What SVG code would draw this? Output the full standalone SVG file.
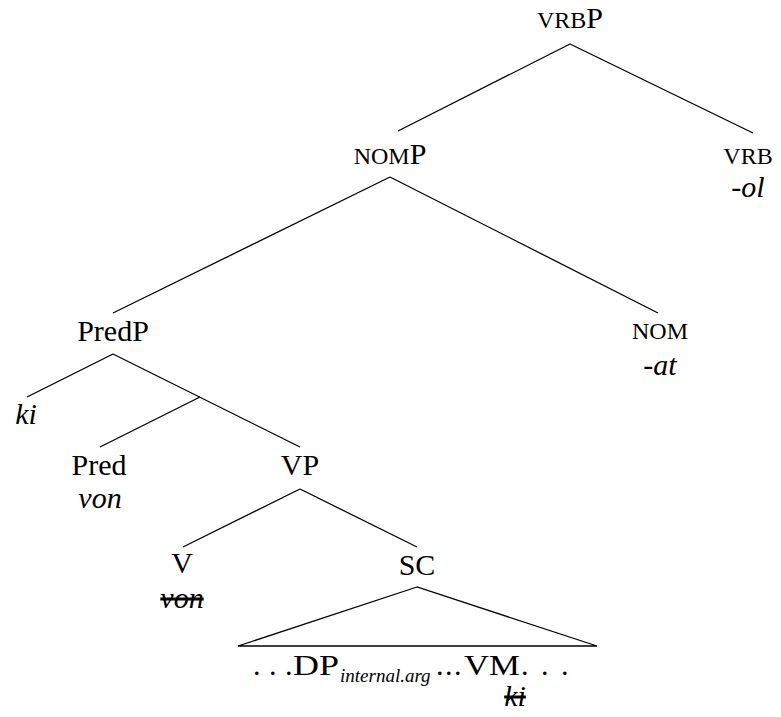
<svg xmlns="http://www.w3.org/2000/svg" width="781" height="717" viewBox="0 0 781 717">
<style>
text{font-family:'Liberation Serif','DejaVu Serif',serif;font-size:30px;fill:#000;text-anchor:middle}
.sc{font-size:24px}
.it{font-style:italic}
.st{text-decoration:line-through}
.l{text-anchor:start}
.edge{stroke:#000;stroke-width:1.3;fill:none}
</style>
<rect width="781" height="717" fill="#fff"/>
<g id="connectors">
<line class="edge" x1="570" y1="44" x2="398" y2="131"/>
<line class="edge" x1="570" y1="44" x2="753" y2="133"/>
<line class="edge" x1="390" y1="177" x2="113" y2="313"/>
<line class="edge" x1="390" y1="177" x2="658" y2="313"/>
<line class="edge" x1="113" y1="354" x2="27" y2="397"/>
<line class="edge" x1="113" y1="354" x2="300" y2="447"/>
<line class="edge" x1="200" y1="397" x2="100" y2="447"/>
<line class="edge" x1="300" y1="489" x2="183" y2="547"/>
<line class="edge" x1="300" y1="489" x2="417" y2="547"/>
<polygon class="edge" points="417,587 238,646 597,646"/>
</g>
<g font-family="Liberation Serif, serif">
<g id="vrbP"><text x="570" y="28"><tspan class="sc">VRB</tspan>P</text></g>
<g id="nomP"><text x="390" y="164"><tspan class="sc">NOM</tspan>P</text></g>
<g id="vrb"><text class="sc" x="748" y="164">VRB</text><text class="it" x="748" y="197">-ol</text></g>
<g id="predP"><text x="113" y="341">PredP</text></g>
<g id="nom"><text class="sc" x="660" y="339">NOM</text><text class="it" x="660" y="375">-at</text></g>
<g id="ki"><text class="it" x="26" y="424">ki</text></g>
<g id="pred"><text x="99" y="475">Pred</text><text class="it" x="100" y="508">von</text></g>
<g id="vP"><text x="300" y="475">VP</text></g>
<g id="v"><text x="182" y="573">V</text><text class="it st" x="182" y="608">von</text></g>
<g id="sc"><text x="417" y="575">SC</text></g>
<g id="sc-content">
<text class="l" x="253 269 285" y="675">...</text>
<text class="l" x="293" y="675" textLength="46" lengthAdjust="spacingAndGlyphs">DP</text>
<text class="l it" x="340" y="682" style="font-size:19px">internal.arg</text>
<text class="l" x="436 445 454" y="675">...</text>
<text class="l" x="464" y="675" textLength="56" lengthAdjust="spacingAndGlyphs">VM</text>
<text class="l" x="521 541 561" y="675">...</text>
<text class="it st" x="515" y="706">ki</text>
</g>
</g>
</svg>
